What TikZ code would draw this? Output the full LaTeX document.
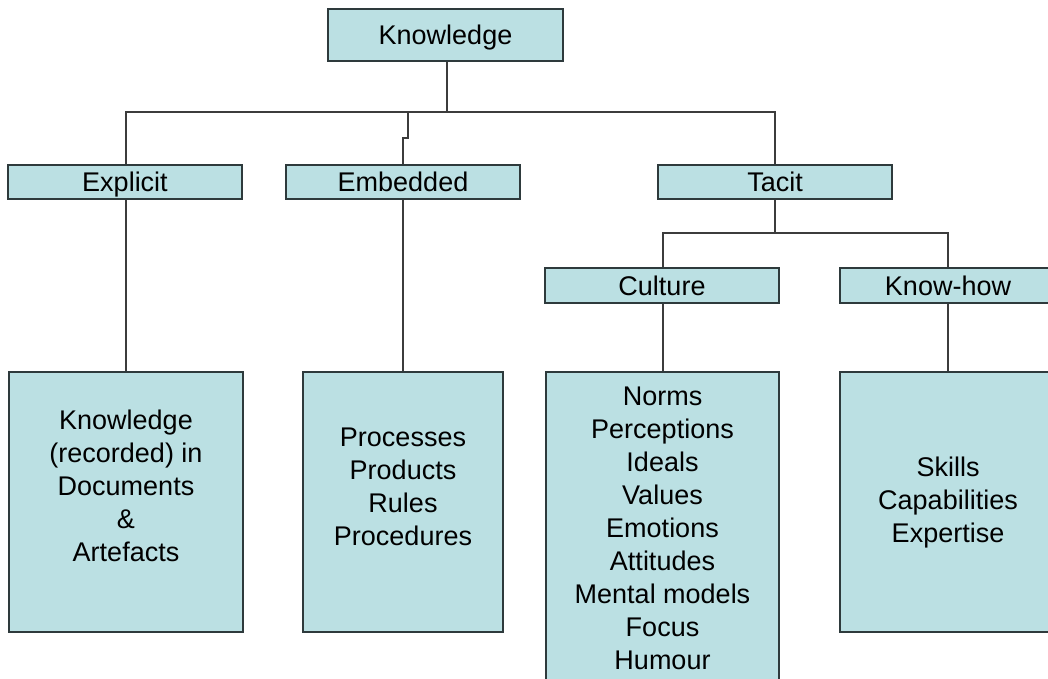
\documentclass[tikz,border=0pt]{standalone}
\usepackage{fontspec}
\setmainfont{Liberation Sans}
\definecolor{boxfill}{HTML}{BBE0E3}
\definecolor{boxline}{HTML}{2E3A3C}
\definecolor{wire}{HTML}{3C3C3C}
\begin{document}
\begin{tikzpicture}[x=1pt,y=-1pt,
  box/.style={draw=boxline,fill=boxfill,line width=1.4pt,inner sep=0pt,
    text height=19.4pt,text depth=0pt,
    font=\fontsize{27}{33}\selectfont},
  txt/.style={align=center,inner sep=0pt,font=\fontsize{27}{33}\selectfont},
  wirestyle/.style={draw=wire,line width=1.3pt}]
\useasboundingbox (0,0) rectangle (1048,679);
\clip (0,0) rectangle (1048,679);

% top level
\node[box,minimum width=235,minimum height=52] (know) at (445.5,35) {Knowledge};

% second level
\node[box,minimum width=234,minimum height=34] (expl) at (125,182) {Explicit};
\node[box,minimum width=234,minimum height=34] (emb) at (403,182) {Embedded};
\node[box,minimum width=234,minimum height=34] (tac) at (775,182) {Tacit};

% third level under Tacit
\node[box,minimum width=234,minimum height=35] (cult) at (662,285.5) {Culture};
\node[box,minimum width=216,minimum height=35] (khow) at (948,285.5) {Know-how};

% detail boxes
\node[draw=boxline,fill=boxfill,line width=1.4pt,minimum width=234,minimum height=260] (explB) at (126,502) {};
\node[draw=boxline,fill=boxfill,line width=1.4pt,minimum width=200,minimum height=260] (embB) at (403,502) {};
\node[draw=boxline,fill=boxfill,line width=1.4pt,minimum width=233,minimum height=314] (cultB) at (662.5,529) {};
\node[draw=boxline,fill=boxfill,line width=1.4pt,minimum width=216,minimum height=260] (khowB) at (948,502) {};

\node[txt] (explT) at (126,486) {Knowledge\\(recorded) in\\Documents\\\&\\Artefacts};
\node[txt] (embT) at (403,486.5) {Processes\\Products\\Rules\\Procedures};
\node[txt] (cultT) at (662.5,528) {Norms\\Perceptions\\Ideals\\Values\\Emotions\\Attitudes\\Mental models\\Focus\\Humour};
\node[txt] (khowT) at (948,502.5) {Skills\\Capabilities\\Expertise};

% connectors
\coordinate (bus) at (447,112);
\coordinate (embJ) at (408,112);
\draw[wirestyle] (know.south -| bus) -- (bus);
\draw[wirestyle] (expl.north -| explB.north) |- (bus) -| (tac.north);
\draw[wirestyle] (embJ) -- ++(0,26) -| (emb.north);

\coordinate (tbus) at (775,233);
\coordinate (cultX) at (663,0);
\draw[wirestyle] (tac.south) -- (tbus);
\draw[wirestyle] (cult.north -| cultX) |- (tbus) -| (khow.north);

\draw[wirestyle] (expl.south -| explB.north) -- (explB.north);
\draw[wirestyle] (emb.south) -- (embB.north);
\draw[wirestyle] (cult.south -| cultX) -- (cultB.north -| cultX);
\draw[wirestyle] (khow.south) -- (khowB.north);
\end{tikzpicture}
\end{document}
